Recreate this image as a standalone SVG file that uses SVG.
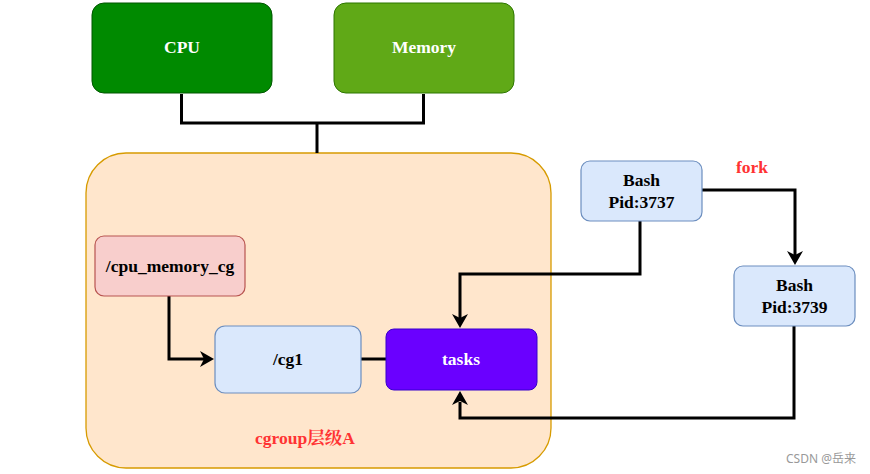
<svg xmlns="http://www.w3.org/2000/svg" width="870" height="474" viewBox="0 0 870 474">
<defs>
<style>
.t{font-family:'Liberation Serif','Times New Roman','Noto Serif CJK SC','Noto Sans CJK SC',serif;font-weight:700;font-size:17.5px;text-anchor:middle;dominant-baseline:central}
.w{fill:#ffffff}
.k{fill:#000000}
.r{fill:#ff3333}
.ln{fill:none;stroke:#000;stroke-width:3}
.ah{fill:#000}
.blue{fill:#dae8fc;stroke:#6c8ebf;stroke-width:1.2}
</style>
</defs>
<rect width="870" height="474" fill="#fff"/>
<g id="container">
<rect x="86" y="153" width="465" height="315" rx="40" fill="#ffe6cc" stroke="#d79b00" stroke-width="1.3"/>
<text class="t r" x="305" y="438">cgroup层级A</text>
</g>
<g id="connectors">
<path class="ln" d="M181.5,94 V123 H423.5 V94"/>
<path class="ln" d="M317,123 V153"/>
<path class="ln" d="M169,296 V359 H204"/>
<path class="ah" d="M200,351 L214,359 L200,367 L204,359 Z"/>
<path class="ln" d="M361,359 H386"/>
<path class="ln" d="M640,221 V274 H460 V318"/>
<path class="ah" d="M452,314 L460,328 L468,314 L460,318 Z"/>
<path class="ln" d="M794,326 V418 H460 V402"/>
<path class="ah" d="M452,405 L460,391 L468,405 L460,401 Z"/>
<path class="ln" d="M702,190 H795 V255"/>
<path class="ah" d="M787,251 L795,265 L803,251 L795,255 Z"/>
<text class="t r" x="752" y="167">fork</text>
</g>
<g id="cpu">
<rect x="92" y="3" width="180" height="90" rx="12" fill="#008a00" stroke="#005700" stroke-width="1"/>
<text class="t w" x="182" y="47">CPU</text>
</g>
<g id="memory">
<rect x="334" y="3" width="180" height="90" rx="12" fill="#60a917" stroke="#2d7600" stroke-width="1"/>
<text class="t w" x="424" y="47">Memory</text>
</g>
<g id="cpu_memory_cg">
<rect x="95" y="236" width="150" height="60" rx="9" fill="#f8cecc" stroke="#b85450" stroke-width="1.2"/>
<text class="t k" x="170" y="266">/cpu_memory_cg</text>
</g>
<g id="cg1">
<rect class="blue" x="215" y="326" width="146" height="67" rx="10"/>
<text class="t k" x="288" y="359">/cg1</text>
</g>
<g id="tasks">
<rect x="386" y="329" width="151" height="61" rx="8" fill="#6a00ff" stroke="#3700cc" stroke-width="1"/>
<text class="t w" x="461" y="359">tasks</text>
</g>
<g id="bash3737">
<rect class="blue" x="581" y="161" width="121" height="60" rx="9"/>
<text class="t k" x="641.5" y="180">Bash</text>
<text class="t k" x="641.5" y="202">Pid:3737</text>
</g>
<g id="bash3739">
<rect class="blue" x="734" y="266" width="121" height="60" rx="9"/>
<text class="t k" x="794.5" y="285">Bash</text>
<text class="t k" x="794.5" y="307">Pid:3739</text>
</g>
<text x="821" y="463" font-family="'Noto Sans','Noto Sans CJK SC',sans-serif" font-size="12" fill="#999" text-anchor="middle">CSDN @岳来</text>
</svg>
